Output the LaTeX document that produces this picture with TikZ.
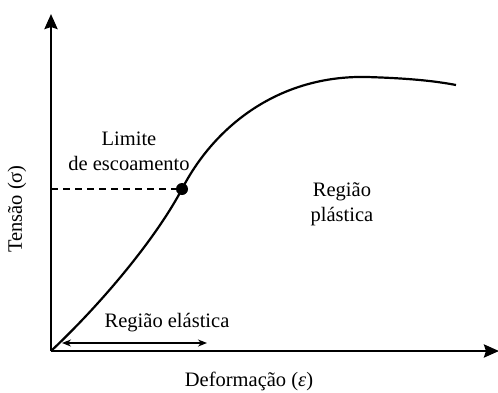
\documentclass[tikz,border=0pt]{standalone}
\usepackage{fontspec}
\setmainfont{Liberation Serif}
\usetikzlibrary{arrows.meta}
\begin{document}
\begin{tikzpicture}[x=1pt,y=-1pt,
  axis/.style={line width=2.6pt,-{Stealth[length=15pt,width=13pt,inset=2pt]}},
  curve/.style={line width=2.2pt},
  lbl/.style={font=\fontsize{20.5}{24}\selectfont,align=center,inner sep=0pt},
  dim/.style={line width=1.4pt,{Stealth[length=9pt,width=7pt]}-{Stealth[length=9pt,width=7pt]}}]
\useasboundingbox (0,0) rectangle (498,392);
\coordinate (O) at (51,351);
\coordinate (ytop) at (51,14);
\coordinate (xend) at (499,351);
\coordinate (yl) at (51,189);
\coordinate (pe) at (456,85);
\coordinate (top) at (367,77);
\draw[axis] (O) -- (ytop);
\draw[axis] (O) -- (xend);
\node[circle,fill=black,minimum size=12pt,inner sep=0pt] (Y) at (182,189) {};
\draw[dashed,line width=1.4pt,dash pattern=on 7pt off 5pt] (yl) -- (Y.center);
\draw[curve] (O) .. controls (100,305) and (155,240) .. (Y.center)
  .. controls (215,125) and (280,75) .. (top)
  .. controls (400,78) and (430,80) .. (pe);
\coordinate (e1) at (62,343);
\coordinate (e2) at (207,343);
\draw[dim] (e1) -- (e2);
\node[lbl] (lim) at (129,151) {Limite\\[1pt]de escoamento};
\node[lbl] (el) at (167,323) {Região elástica};
\node[lbl] (pl) at (342,204) {Região\\[1pt]plástica};
\node[lbl] (xl) at (249,381) {Deformação (\textit{ε})};
\node[lbl,rotate=90] (yl2) at (17,209) {Tensão (σ)};
\end{tikzpicture}
\end{document}
